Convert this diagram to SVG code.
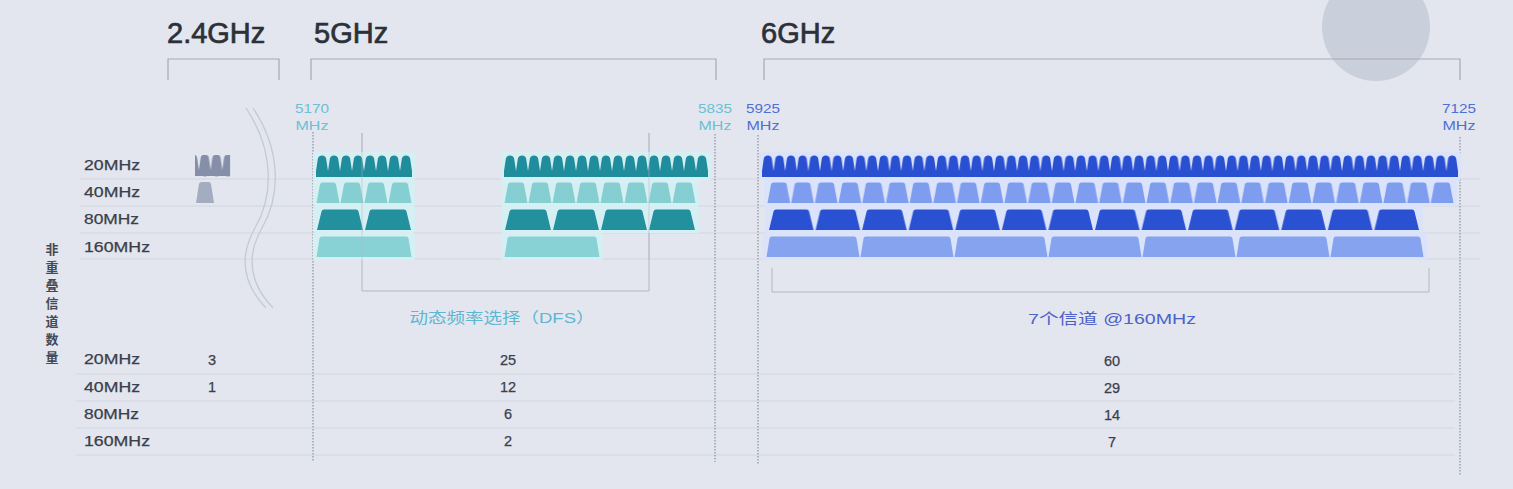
<svg xmlns="http://www.w3.org/2000/svg" width="1513" height="489" viewBox="0 0 1513 489">
<style>
.t{font-family:"Liberation Sans",Arial,sans-serif;}
.title{font-size:29px;fill:#2c3038;stroke:#2c3038;stroke-width:0.7;}
.lbl{font-size:14px;fill:#3a3f4a;stroke:#3a3f4a;stroke-width:0.25;}
.num{font-size:14.5px;fill:#3a3f4a;stroke:#3a3f4a;stroke-width:0.25;text-anchor:middle;}
.f5{font-size:13px;fill:#6cbfd4;text-anchor:middle;}
.f6{font-size:13px;fill:#4f6fd4;text-anchor:middle;}
.vt{font-family:"Noto Sans CJK SC","Liberation Sans",sans-serif;font-size:13px;font-weight:bold;fill:#454a55;text-anchor:middle;}
.cjk{font-family:"Liberation Sans","Noto Sans CJK SC",sans-serif;font-size:15px;text-anchor:middle;}
.br{fill:none;stroke:#a5a9b3;stroke-width:1.2;}
.br2{fill:none;stroke:#b3b7c1;stroke-width:1;}
.dot{fill:none;stroke:#8d9aa8;stroke-width:1.3;stroke-dasharray:1.5 1.5;}
.row{stroke:#d2d6df;stroke-width:1;}
.h5{fill:#d6eff3;}
.h6{fill:#dbe3fa;}
.wave{fill:none;stroke:#c5c9d3;stroke-width:1.3;}
</style>
<defs>
<pattern id="p24" width="11.7" height="22" patternUnits="userSpaceOnUse"><path d="M0,22 V16 L1.7,4 Q2.2,0.5 5.85,0.5 Q9.5,0.5 10,4 L11.7,16 V22 Z" fill="#8590a8"/></pattern>
<pattern id="p5a" width="12" height="22" patternUnits="userSpaceOnUse"><path d="M0,22 V16 L1.8,4 Q2.3,0.5 6,0.5 Q9.7,0.5 10.2,4 L12,16 V22 Z" fill="#1f8d9c"/></pattern>
<pattern id="p5b" width="24" height="21" patternUnits="userSpaceOnUse"><path d="M0.5,21 L4,2.5 Q4.4,0.5 6.5,0.5 H17.5 Q19.6,0.5 20,2.5 L23.5,21 Z" fill="#85cfd2"/></pattern>
<pattern id="p5c" width="48" height="21" patternUnits="userSpaceOnUse"><path d="M1,21 L5.5,2.5 Q5.9,0.5 8,0.5 H40 Q42.1,0.5 42.5,2.5 L47,21 Z" fill="#23909e"/></pattern>
<pattern id="p5d" width="96" height="21" patternUnits="userSpaceOnUse"><path d="M0.5,21 L3.5,2.5 Q3.9,0.5 6,0.5 H90 Q92.1,0.5 92.5,2.5 L95.5,21 Z" fill="#88d1d4"/></pattern>
<pattern id="p6a" width="11.6" height="22" patternUnits="userSpaceOnUse"><path d="M0,22 V16 L1.7,4 Q2.2,0.5 5.8,0.5 Q9.4,0.5 9.9,4 L11.6,16 V22 Z" fill="#2a50d2"/></pattern>
<pattern id="p6b" width="23.69" height="21" patternUnits="userSpaceOnUse"><path d="M0.5,21 L4,2.5 Q4.4,0.5 6.5,0.5 H17.2 Q19.3,0.5 19.7,2.5 L23.2,21 Z" fill="#7f9def"/></pattern>
<pattern id="p6c" width="46.57" height="21" patternUnits="userSpaceOnUse"><path d="M1,21 L5.5,2.5 Q5.9,0.5 8,0.5 H38.6 Q40.7,0.5 41.1,2.5 L45.6,21 Z" fill="#2b51d3"/></pattern>
<pattern id="p6d" width="94" height="21" patternUnits="userSpaceOnUse"><path d="M0.5,21 L3.5,2.5 Q3.9,0.5 6,0.5 H88 Q90.1,0.5 90.5,2.5 L93.5,21 Z" fill="#86a3f0"/></pattern>
</defs>

<rect width="1513" height="489" fill="#e3e6ee"/>
<circle cx="1376" cy="27" r="54" fill="#c9cfdb"/>

<g id="grid">
<line class="row" x1="80" y1="179" x2="1480" y2="179"/>
<line class="row" x1="80" y1="206" x2="1480" y2="206"/>
<line class="row" x1="80" y1="233" x2="1480" y2="233"/>
<line class="row" x1="80" y1="259" x2="1480" y2="259"/>
<line class="row" x1="76" y1="374" x2="1455" y2="374"/>
<line class="row" x1="76" y1="401" x2="1455" y2="401"/>
<line class="row" x1="76" y1="428" x2="1455" y2="428"/>
<line class="row" x1="76" y1="455" x2="1455" y2="455"/>
</g>

<g id="titles" class="t">
<text class="title" x="167" y="43">2.4GHz</text>
<text class="title" x="314" y="43">5GHz</text>
<text class="title" x="761" y="43">6GHz</text>
</g>

<g id="connectors">
<path class="br" d="M168,80 V59 H279 V80"/>
<path class="br" d="M311,80 V59 H716 V80"/>
<path class="br" d="M764,80 V59 H1460 V80"/>
<path class="br2" d="M362,133 V291 H649 V133"/>
<path class="br2" d="M772,268 V292 H1429 V268"/>
<line class="dot" x1="313" y1="132" x2="313" y2="462"/>
<line class="dot" x1="715" y1="134" x2="715" y2="462"/>
<line class="dot" x1="758" y1="135" x2="758" y2="465"/>
<line class="dot" x1="1460" y1="137" x2="1460" y2="475"/>
<path class="wave" d="M246,108 C274,150 274,195 255,228 C238,258 244,285 266,308"/>
<path class="wave" d="M253,108 C281,150 281,195 262,228 C245,258 251,285 273,308"/>
</g>

<g id="freq-labels" class="t">
<text class="f5" x="312" y="113" textLength="34" lengthAdjust="spacingAndGlyphs">5170</text>
<text class="f5" x="312" y="130" textLength="33" lengthAdjust="spacingAndGlyphs">MHz</text>
<text class="f5" x="715" y="113" textLength="34" lengthAdjust="spacingAndGlyphs">5835</text>
<text class="f5" x="715" y="130" textLength="33" lengthAdjust="spacingAndGlyphs">MHz</text>
<text class="f6" x="763" y="113" textLength="34" lengthAdjust="spacingAndGlyphs">5925</text>
<text class="f6" x="763" y="130" textLength="33" lengthAdjust="spacingAndGlyphs">MHz</text>
<text class="f6" x="1459" y="113" textLength="34" lengthAdjust="spacingAndGlyphs">7125</text>
<text class="f6" x="1459" y="130" textLength="33" lengthAdjust="spacingAndGlyphs">MHz</text>
</g>

<g id="row-labels" class="t">
<text class="lbl" x="84" y="170" textLength="56" lengthAdjust="spacingAndGlyphs">20MHz</text>
<text class="lbl" x="84" y="197" textLength="56" lengthAdjust="spacingAndGlyphs">40MHz</text>
<text class="lbl" x="84" y="224" textLength="55" lengthAdjust="spacingAndGlyphs">80MHz</text>
<text class="lbl" x="84" y="252" textLength="66" lengthAdjust="spacingAndGlyphs">160MHz</text>
<text class="lbl" x="84" y="364" textLength="56" lengthAdjust="spacingAndGlyphs">20MHz</text>
<text class="lbl" x="84" y="392" textLength="56" lengthAdjust="spacingAndGlyphs">40MHz</text>
<text class="lbl" x="84" y="419" textLength="55" lengthAdjust="spacingAndGlyphs">80MHz</text>
<text class="lbl" x="84" y="446" textLength="66" lengthAdjust="spacingAndGlyphs">160MHz</text>
</g>

<g id="side-label">
<text class="vt" x="52" y="254">非</text>
<text class="vt" x="52" y="272">重</text>
<text class="vt" x="52" y="290">叠</text>
<text class="vt" x="52" y="308">信</text>
<text class="vt" x="52" y="326">道</text>
<text class="vt" x="52" y="344">数</text>
<text class="vt" x="52" y="362">量</text>
</g>

<g id="band-24">
<rect x="195" y="155" width="35.1" height="22" fill="url(#p24)"/>
<path d="M196,203 L199,184 Q199.4,182 201.5,182 H208.5 Q210.6,182 211,184 L214,203 Z" fill="#a4acbf"/>
</g>

<g id="band-5-low" transform="translate(316,0)">
<rect class="h5" x="-3" y="152" width="102" height="28" rx="2"/>
<rect class="h5" x="-3" y="179" width="102" height="27" rx="2"/>
<rect class="h5" x="-3" y="206" width="102" height="27" rx="2"/>
<rect class="h5" x="-3" y="233" width="102" height="27" rx="2"/>
<g transform="translate(0,155)"><rect width="96" height="22" fill="url(#p5a)"/></g>
<g transform="translate(0,182)"><rect width="96" height="21" fill="url(#p5b)"/></g>
<g transform="translate(0,209)"><rect width="96" height="21" fill="url(#p5c)"/></g>
<g transform="translate(0,236)"><rect width="96" height="21" fill="url(#p5d)"/></g>
</g>

<g id="band-5-high" transform="translate(504,0)">
<rect class="h5" x="-3" y="152" width="210" height="28" rx="2"/>
<rect class="h5" x="-3" y="179" width="198" height="27" rx="2"/>
<rect class="h5" x="-3" y="206" width="198" height="27" rx="2"/>
<rect class="h5" x="-3" y="233" width="102" height="27" rx="2"/>
<g transform="translate(0,155)"><rect width="204" height="22" fill="url(#p5a)"/></g>
<g transform="translate(0,182)"><rect width="192" height="21" fill="url(#p5b)"/></g>
<g transform="translate(0,209)"><rect width="192" height="21" fill="url(#p5c)"/></g>
<g transform="translate(0,236)"><rect width="96" height="21" fill="url(#p5d)"/></g>
</g>

<g id="band-6">
<rect class="h6" x="759" y="152" width="702" height="28" rx="2"/>
<rect class="h6" x="764" y="179" width="693" height="27" rx="2"/>
<rect class="h6" x="765" y="206" width="658" height="27" rx="2"/>
<rect class="h6" x="763" y="233" width="664" height="27" rx="2"/>
<g transform="translate(762,155)"><rect width="696" height="22" fill="url(#p6a)"/></g>
<g transform="translate(767,182)"><rect width="687" height="21" fill="url(#p6b)"/></g>
<g transform="translate(768,209)"><rect width="652" height="21" fill="url(#p6c)"/></g>
<g transform="translate(766,236)"><rect width="658" height="21" fill="url(#p6d)"/></g>
</g>

<g id="dfs-overlay">
<line x1="362" y1="133" x2="362" y2="260" stroke="#b3b7c1" stroke-width="1" opacity="0.5"/>
<line x1="649" y1="133" x2="649" y2="260" stroke="#b3b7c1" stroke-width="1" opacity="0.5"/>
</g>

<g id="notes" class="t">
<text class="cjk" x="502" y="323" fill="#5db6d2" textLength="185" lengthAdjust="spacingAndGlyphs">动态频率选择（DFS）</text>
<text class="cjk" x="1112" y="324" fill="#4c62c8" textLength="168" lengthAdjust="spacingAndGlyphs">7个信道 @160MHz</text>
</g>

<g id="counts" class="t">
<text class="num" x="212" y="365">3</text>
<text class="num" x="212" y="392">1</text>
<text class="num" x="508" y="365">25</text>
<text class="num" x="508" y="392">12</text>
<text class="num" x="508" y="419">6</text>
<text class="num" x="508" y="446">2</text>
<text class="num" x="1112" y="366">60</text>
<text class="num" x="1112" y="393">29</text>
<text class="num" x="1112" y="420">14</text>
<text class="num" x="1112" y="447">7</text>
</g>
</svg>
